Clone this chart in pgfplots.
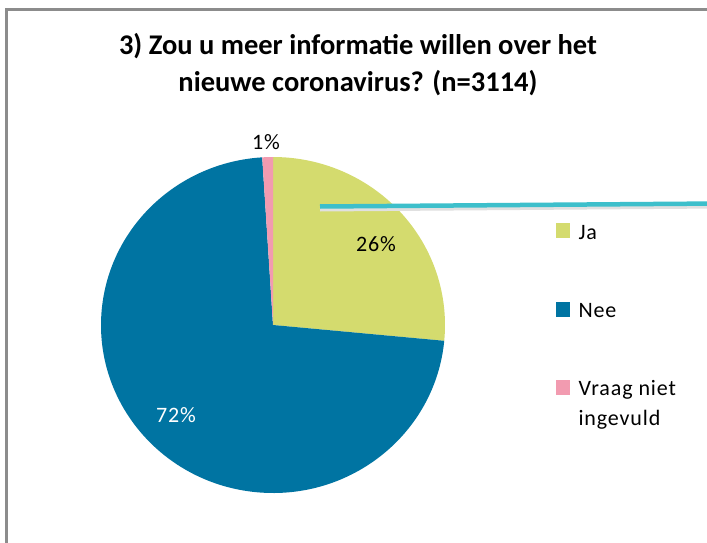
\documentclass[border=0pt]{standalone}
\usepackage{pgfplots}
\usepackage{pgfplotstable}
\pgfplotsset{compat=1.18}
\usepackage{fontspec}
\setmainfont{Carlito}
\definecolor{ja}{HTML}{D4DB6E}
\definecolor{nee}{HTML}{0074A2}
\definecolor{vraag}{HTML}{F29BB0}
\definecolor{cyanline}{HTML}{3DBFCB}
\definecolor{framegray}{HTML}{8C8C8C}
\pgfplotstableread{
label value
Ja 26.5
Nee 72.5
Vraag 1.0
}\piedata
\begin{document}
\begin{tikzpicture}
\path[use as bounding box] (0,0) rectangle (707pt,543pt);
\clip (0,0) rectangle (707pt,543pt);
\fill[white] (0,0) rectangle (707pt,543pt);
\fill[framegray] (5pt,0pt) rectangle (7.5pt,535pt);
\fill[framegray] (5pt,531.5pt) rectangle (707pt,534.5pt);
\begin{axis}[
  at={(0,0)}, anchor=south west,
  width=707pt, height=543pt, scale only axis,
  xmin=0, xmax=707, ymin=0, ymax=543, y dir=reverse,
  hide axis, clip=false]
\pgfplotstablegetelem{0}{value}\of\piedata \let\vA\pgfplotsretval
\pgfplotstablegetelem{1}{value}\of\piedata \let\vB\pgfplotsretval
\pgfplotstablegetelem{2}{value}\of\piedata \let\vC\pgfplotsretval
\pgfmathsetmacro\aA{90-3.6*\vA}
\pgfmathsetmacro\aB{\aA-3.6*\vB}
\pgfmathsetmacro\aC{\aB-3.6*\vC}
\pgfmathsetmacro\xA{172*cos(\aA)}
\pgfmathsetmacro\yA{168*sin(\aA)}
\pgfmathsetmacro\xB{172*cos(\aB)}
\pgfmathsetmacro\yB{168*sin(\aB)}
% title
\node[font=\fontsize{28.5}{37}\selectfont\bfseries, align=center] at (axis cs:358,65)
  {3) Zou u meer informatie willen over het\\nieuwe coronavirus? (n=3114)};
% pie
\fill[ja] (axis cs:273,325) -- ++(0pt,168pt) arc[start angle=90, end angle=\aA, x radius=172pt, y radius=168pt] -- cycle;
\fill[nee] (axis cs:273,325) -- ++(\xA pt,\yA pt) arc[start angle=\aA, end angle=\aB, x radius=172pt, y radius=168pt] -- cycle;
\fill[vraag] (axis cs:273,325) -- ++(\xB pt,\yB pt) arc[start angle=\aB, end angle=\aC, x radius=172pt, y radius=168pt] -- cycle;
% data labels
\node[font=\fontsize{22}{26}\selectfont\addfontfeatures{LetterSpace=4}] at (axis cs:376,244) {26\%};
\node[font=\fontsize{22}{26}\selectfont\addfontfeatures{LetterSpace=4}, white] at (axis cs:176,415) {72\%};
\node[font=\fontsize{22}{26}\selectfont\addfontfeatures{LetterSpace=4}] at (axis cs:266,142) {1\%};
% cyan line
\draw[black!12, line width=4pt] (axis cs:320,209.5) -- (axis cs:720,206.5);
\draw[cyanline, line width=4.5pt] (axis cs:320,206.5) -- (axis cs:720,203.5);
% legend
\fill[ja] (axis cs:556,223) rectangle (axis cs:570,238);
\fill[nee] (axis cs:556,302) rectangle (axis cs:570,317);
\fill[vraag] (axis cs:556,380) rectangle (axis cs:570,395);
\node[font=\fontsize{22}{29}\selectfont\addfontfeatures{LetterSpace=4}, anchor=west] at (axis cs:575,233) {Ja};
\node[font=\fontsize{22}{29}\selectfont\addfontfeatures{LetterSpace=4}, anchor=west] at (axis cs:575,311) {Nee};
\node[font=\fontsize{22}{22}\selectfont\addfontfeatures{LetterSpace=4}, anchor=west, align=left] at (axis cs:575,390) {Vraag niet};
\node[font=\fontsize{22}{22}\selectfont\addfontfeatures{LetterSpace=4}, anchor=west, align=left] at (axis cs:575,420) {ingevuld};
\end{axis}
\end{tikzpicture}
\end{document}
